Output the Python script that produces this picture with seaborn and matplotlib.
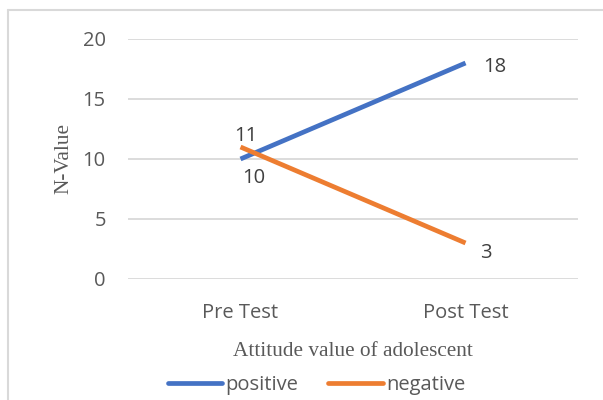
import matplotlib.pyplot as plt
import matplotlib.lines as mlines
import pandas as pd
import seaborn as sns

tests = ["Pre Test", "Post Test"]
positive = [10, 18]
negative = [11, 3]
y_ticks = [0, 5, 10, 15, 20]

df = pd.DataFrame({
    "test": tests * 2,
    "value": positive + negative,
    "attitude": ["positive"] * 2 + ["negative"] * 2,
})
df["x"] = df["test"].map({t: i for i, t in enumerate(tests)})

sns.set_style("white")
plt.rcParams["font.family"] = ["Open Sans", "DejaVu Sans"]

fig = plt.figure(figsize=(6.03, 4.0), dpi=100)
ax = fig.add_axes([0.2123, 0.3025, 0.7463, 0.6])

palette = {"positive": "#4472C4", "negative": "#ED7D31"}
sns.lineplot(data=df, x="x", y="value", hue="attitude", palette=palette,
             linewidth=3.4, ax=ax, legend=False, solid_capstyle="butt")

ax.set_xlim(-0.5, 1.5)
ax.set_ylim(0, 20)
ax.set_yticks(y_ticks)
ax.set_xticks(range(len(tests)))
ax.set_xticklabels(tests)
ax.yaxis.grid(True, color="#D9D9D9", linewidth=1.3)
ax.set_axisbelow(True)
for s in ax.spines.values():
    s.set_visible(False)
ax.tick_params(axis="both", length=0, labelsize=14.5, labelcolor="#595959")
ax.tick_params(axis="y", pad=16)
ax.tick_params(axis="x", pad=17)

serif = dict(family="Liberation Serif", fontsize=15.3, color="#595959")
ax.set_ylabel("N-Value", labelpad=7, **serif)
ax.set_xlabel("Attitude value of adolescent", labelpad=14, **serif)

# data labels
lab = dict(fontsize=14.5, color="#404040", ha="center", va="center",
           textcoords="offset points")
ax.annotate(str(positive[0]), (0, positive[0]), xytext=(9.4, -13.7), **lab)
ax.annotate(str(negative[0]), (0, negative[0]), xytext=(3.6, 8), **lab)
ax.annotate(str(positive[1]), (1, positive[1]), xytext=(21, -3), **lab)
ax.annotate(str(negative[1]), (1, negative[1]), xytext=(14.4, -7.2), **lab)

handles = [mlines.Line2D([], [], color=palette[k], linewidth=3.4) for k in ["positive", "negative"]]
fig.legend(handles, ["positive", "negative"], loc="center", bbox_to_anchor=(0.525, 0.0375),
           ncol=2, frameon=False, fontsize=14.5, handlelength=2.7, handletextpad=0.15,
           columnspacing=1.5, labelcolor="#595959")

# chart border (left and top edges visible in crop)
fig.add_artist(mlines.Line2D([8 / 603, 8 / 603], [0, 1 - 10 / 400], color="#D9D9D9", linewidth=1.5))
fig.add_artist(mlines.Line2D([8 / 603, 1], [1 - 10 / 400, 1 - 10 / 400], color="#D9D9D9", linewidth=1.5))

fig.savefig("out.png", dpi=100)
